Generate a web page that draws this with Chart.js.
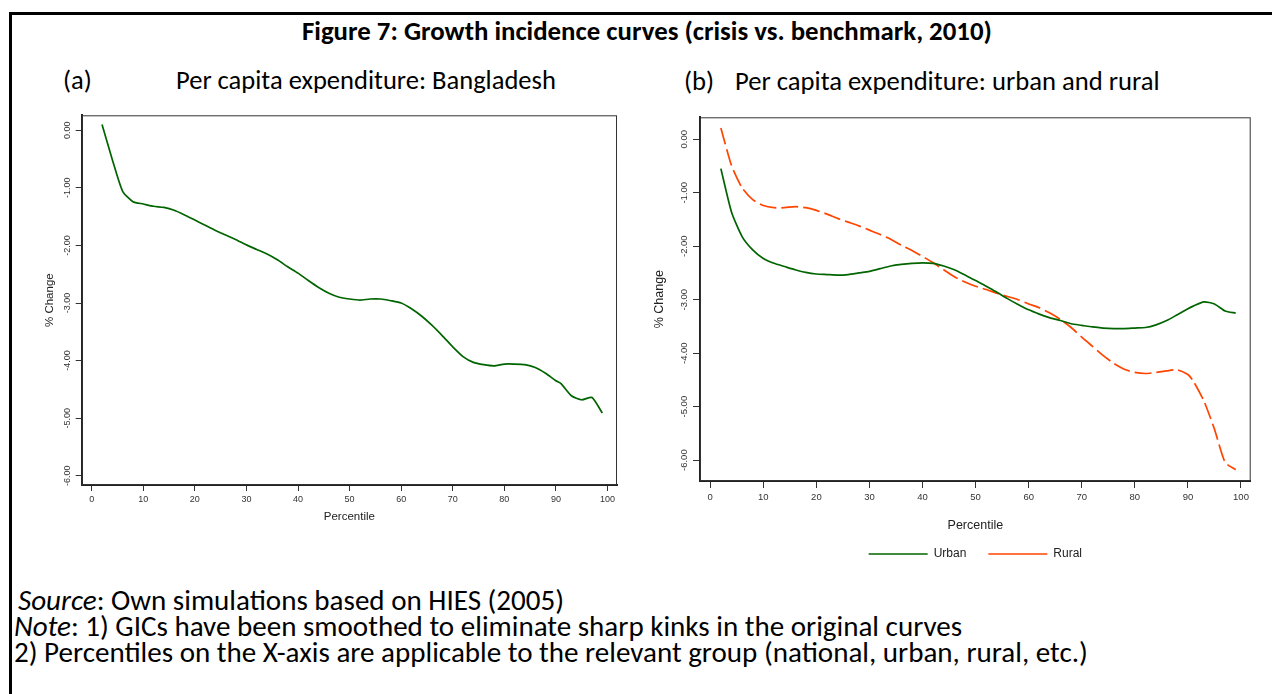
<!DOCTYPE html>
<html>
<head>
<meta charset="utf-8">
<script src="https://cdn.jsdelivr.net/npm/chart.js@4.4.0/dist/chart.umd.min.js"></script>
<style>
  html, body { margin: 0; padding: 0; background: #fff; width: 1272px; height: 694px; overflow: hidden; }
  #frame { position: absolute; left: 9px; top: 12px; width: 1300px; height: 800px; border-top: 3px solid #000; border-left: 3px solid #000; }
  .t { position: absolute; white-space: nowrap; line-height: 1.2; transform: translateY(-50%);
       font-family: Carlito, Calibri, Lato, sans-serif; font-size: 20px; color: #000; }
  .panel { position: absolute; }
</style>
</head>
<body>
<div id="frame"></div>

<div class="t" id="title" style="left:302px; top:31px; font-weight:bold;">Figure 7: Growth incidence curves (crisis vs. benchmark, 2010)</div>
<div class="t" id="aTag" style="left:63px; top:81px;">(a)</div>
<div class="t" id="aText" style="left:176px; top:81px;">Per capita expenditure: Bangladesh</div>
<div class="t" id="bTag" style="left:684px; top:81px;">(b)</div>
<div class="t" id="bText" style="left:735px; top:81px;">Per capita expenditure: urban and rural</div>

<div class="panel" style="left:30px; top:100px; width:600px; height:430px;"><canvas id="chartA"></canvas></div>
<div class="panel" style="left:640px; top:100px; width:630px; height:480px;"><canvas id="chartB"></canvas></div>

<div class="t" id="src" style="left:18px; top:600px;"><i>Source</i>: Own simulations based on HIES (2005)</div>
<div class="t" id="note1" style="left:14px; top:626px;"><i>Note</i>: 1) GICs have been smoothed to eliminate sharp kinks in the original curves</div>
<div class="t" id="note2" style="left:14px; top:652px;">2) Percentiles on the X-axis are applicable to the relevant group (national, urban, rural, etc.)</div>

<script>
// values (percent change by percentile)
const percentiles = [2, 4, 6, 8, 10, 12, 14, 16, 18, 20, 22, 24, 26, 28, 30, 32, 34, 36, 38, 40,
  42, 44, 46, 48, 50, 52, 54, 56, 58, 60, 62, 64, 66, 68, 70, 72, 74, 76, 78, 80,
  82, 84, 86, 88, 90, 91, 93, 95, 97, 99];

const bangladesh = [0.10, -0.51, -1.06, -1.24, -1.28, -1.32, -1.34, -1.39, -1.47, -1.56,
  -1.65, -1.74, -1.82, -1.90, -1.99, -2.07, -2.15, -2.25, -2.37, -2.48,
  -2.61, -2.73, -2.83, -2.90, -2.93, -2.95, -2.93, -2.93, -2.96, -3.00,
  -3.10, -3.23, -3.39, -3.57, -3.76, -3.93, -4.03, -4.07, -4.09, -4.06,
  -4.06, -4.07, -4.12, -4.22, -4.35, -4.40, -4.61, -4.68, -4.64, -4.91];

const urban = [-0.55, -1.36, -1.82, -2.07, -2.23, -2.32, -2.38, -2.44, -2.49, -2.52,
  -2.53, -2.54, -2.53, -2.50, -2.47, -2.42, -2.37, -2.34, -2.32, -2.31,
  -2.32, -2.37, -2.44, -2.54, -2.64, -2.75, -2.86, -2.98, -3.09, -3.19,
  -3.27, -3.34, -3.39, -3.45, -3.48, -3.51, -3.53, -3.54, -3.54, -3.53,
  -3.52, -3.47, -3.39, -3.28, -3.17, -3.12, -3.04, -3.08, -3.21, -3.25];

const rural = [0.21, -0.49, -0.91, -1.13, -1.24, -1.28, -1.28, -1.26, -1.28, -1.33,
  -1.40, -1.48, -1.55, -1.62, -1.70, -1.78, -1.87, -1.98, -2.08, -2.19,
  -2.31, -2.44, -2.57, -2.67, -2.75, -2.81, -2.88, -2.94, -3.00, -3.08,
  -3.15, -3.25, -3.37, -3.52, -3.70, -3.87, -4.04, -4.19, -4.30, -4.36,
  -4.38, -4.36, -4.33, -4.31, -4.40, -4.52, -4.89, -5.42, -6.04, -6.18];

const xTicks = [0, 10, 20, 30, 40, 50, 60, 70, 80, 90, 100];
const yTicks = [0, -1, -2, -3, -4, -5, -6];

// fit the document text to the widths measured on the figure
function fit(el, w) {
  const cur = parseFloat(getComputedStyle(el).fontSize);
  const size = cur * w / el.getBoundingClientRect().width;
  el.style.fontSize = size + 'px';
  return size;
}
const $ = id => document.getElementById(id);
fit($('title'), 690);
$('aTag').style.fontSize = fit($('aText'), 380) + 'px';
$('bTag').style.fontSize = fit($('bText'), 425) + 'px';
const noteSize = fit($('note2'), 1074);
$('src').style.fontSize = noteSize + 'px';
$('note1').style.fontSize = noteSize + 'px';

const AX_FONT = 'Liberation Sans, Arial, sans-serif';
const green = '#006400';
const orange = '#ff4500';

// draws the thin box round the plot region
const plotBox = {
  id: 'plotBox',
  afterDatasetsDraw(chart) {
    const { ctx, chartArea: a } = chart;
    ctx.save();
    ctx.strokeStyle = '#333';
    ctx.lineWidth = 1;
    ctx.strokeRect(a.left + 0.5, a.top + 0.5, a.right - a.left - 1, a.bottom - a.top - 1);
    ctx.restore();
  }
};

function scales(o) {
  return {
    x: {
      type: 'linear', min: o.xMin, max: o.xMax,
      afterBuildTicks: s => { s.ticks = xTicks.map(v => ({ value: v })); },
      afterFit: s => { s.height = o.xH; },
      grid: { drawOnChartArea: false, tickLength: o.tl, color: '#333' },
      border: { color: '#222', width: 2 },
      ticks: { color: '#333', padding: o.xPad, maxRotation: 0, autoSkip: false,
               font: { family: AX_FONT, size: o.tickSize } },
      title: { display: true, text: 'Percentile', color: '#222',
               font: { family: AX_FONT, size: o.titleSize }, padding: { top: 0, bottom: o.xTitlePad } }
    },
    y: {
      type: 'linear', min: o.yMin, max: o.yMax,
      afterBuildTicks: s => { s.ticks = yTicks.map(v => ({ value: v })); },
      afterFit: s => { s.width = o.yW; },
      grid: { drawOnChartArea: false, tickLength: o.tl, color: '#333' },
      border: { color: '#222', width: 2 },
      ticks: { color: '#333', padding: o.yPad, minRotation: 90, maxRotation: 90, crossAlign: 'center',
               autoSkip: false, callback: v => v.toFixed(2),
               font: { family: AX_FONT, size: o.tickSize } },
      title: { display: true, text: '% Change', color: '#222',
               font: { family: AX_FONT, size: o.titleSize }, padding: { top: o.yTitlePad, bottom: 0 } }
    }
  };
}

function series(label, values, color, dash) {
  return {
    label: label,
    data: percentiles.map((p, i) => ({ x: p, y: values[i] })),
    borderColor: color,
    backgroundColor: color,
    borderWidth: 1.7,
    borderDash: dash,
    pointRadius: 0,
    tension: 0.2,
    fill: false
  };
}

new Chart($('chartA'), {
  type: 'line',
  data: { datasets: [series('Bangladesh', bangladesh, green, [])] },
  options: {
    responsive: true, maintainAspectRatio: false, animation: false,
    layout: { padding: { left: 0, top: 15.3, right: 13, bottom: 0 } },
    plugins: { legend: { display: false }, tooltip: { enabled: false } },
    scales: scales({ xMin: -1.94, xMax: 101.85, yMin: -6.16, yMax: 0.26, xH: 45, yW: 51.7,
                     tl: 6, xPad: 3.6, yPad: -2.3, tickSize: 9, titleSize: 11.5,
                     xTitlePad: 6.1, yTitlePad: 12.5 })
  },
  plugins: [plotBox]
});

new Chart($('chartB'), {
  type: 'line',
  data: { datasets: [series('Urban', urban, green, []), series('Rural', rural, orange, [17, 5])] },
  options: {
    responsive: true, maintainAspectRatio: false, animation: false,
    layout: { padding: { left: 0, top: 17.3, right: 19.3, bottom: 10 } },
    plugins: {
      tooltip: { enabled: false },
      legend: {
        position: 'bottom', fullSize: false,
        labels: { usePointStyle: true, pointStyle: 'line', pointStyleWidth: 59, padding: 22,
                  color: '#222', font: { family: AX_FONT, size: 12 } }
      }
    },
    scales: scales({ xMin: -1.93, xMax: 101.83, yMin: -6.39, yMax: 0.41, xH: 45, yW: 60,
                     tl: 7, xPad: 4, yPad: -2.5, tickSize: 9.5, titleSize: 12.5,
                     xTitlePad: -7.5, yTitlePad: 12.5 })
  },
  plugins: [plotBox]
});
</script>
</body>
</html>
